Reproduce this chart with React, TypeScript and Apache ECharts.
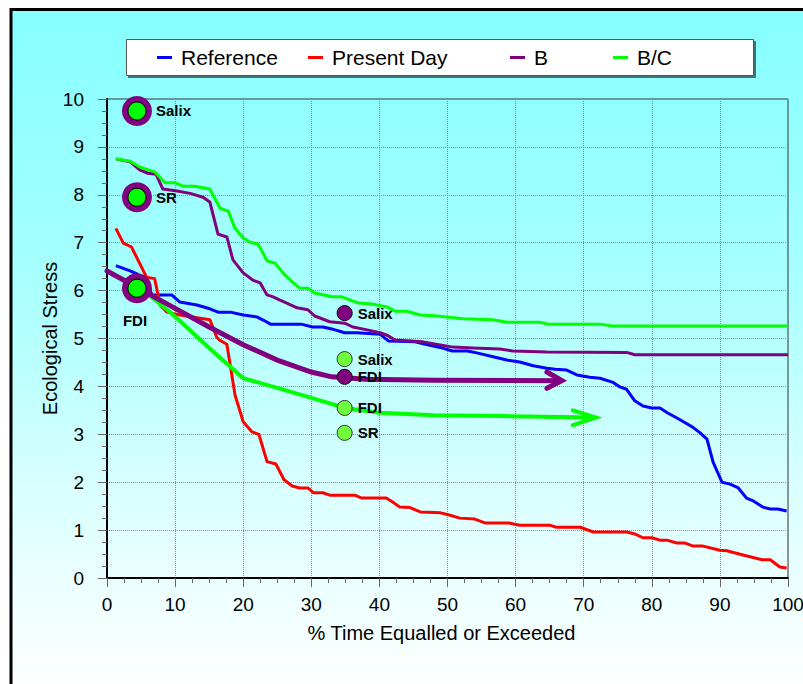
import React, { useEffect, useRef } from "react";
import * as echarts from "echarts";

const FONT = '"Liberation Sans", Arial, Helvetica, sans-serif';

// Duration curves: [% time equalled or exceeded, ecological stress]
const referenceCurve: [number, number][] = [
  [1.3, 6.52], [3.4, 6.41], [4.4, 6.35], [5.9, 6.16], [6.6, 5.91], [9.5, 5.91],
  [10.7, 5.76], [13.2, 5.7], [15.1, 5.62], [16.3, 5.55], [18.1, 5.55], [20, 5.49],
  [22, 5.45], [23, 5.38], [24, 5.3], [28.5, 5.3], [30.2, 5.24], [31.7, 5.24],
  [33, 5.2], [34.9, 5.12], [36.7, 5.12], [40.1, 5.09], [41.3, 4.95], [45.2, 4.93],
  [47.4, 4.86], [49.3, 4.8], [50.7, 4.74], [52.9, 4.74], [54.3, 4.7], [57, 4.61],
  [58.7, 4.55], [60.6, 4.51], [62.6, 4.43], [64.6, 4.38], [65.8, 4.36], [67.5, 4.34],
  [69, 4.24], [70.9, 4.19], [72.4, 4.17], [74.2, 4.09], [75.3, 3.99], [76.3, 3.94],
  [77.5, 3.7], [78.7, 3.59], [80, 3.55], [81.2, 3.55], [82.4, 3.44], [83.7, 3.34],
  [84.9, 3.24], [86, 3.15], [87.1, 3.03], [88.1, 2.9], [89, 2.42], [90.3, 2.0],
  [91.5, 1.96], [92.7, 1.88], [93.9, 1.67], [94.9, 1.61], [96.3, 1.48], [97.4, 1.44],
  [98.5, 1.44], [99.8, 1.4],
];

const presentDayCurve: [number, number][] = [
  [1.3, 7.3], [2.4, 6.99], [3.6, 6.91], [5.8, 6.28], [7.0, 6.25], [7.8, 5.7],
  [8.8, 5.55], [10.7, 5.49], [15.1, 5.39], [16.1, 5.03], [16.5, 4.97], [17.6, 4.88],
  [18.8, 3.82], [20, 3.26], [21.3, 3.05], [22.3, 3.0], [23.5, 2.43], [24.8, 2.38],
  [26, 2.05], [27.2, 1.92], [28.3, 1.88], [29.5, 1.88], [30.3, 1.78], [31.7, 1.78],
  [32.7, 1.73], [36.4, 1.73], [37.4, 1.67], [41, 1.67], [42, 1.58], [43, 1.48],
  [44.5, 1.47], [46, 1.38], [49, 1.36], [50.4, 1.31], [51.8, 1.25], [54, 1.23],
  [55.5, 1.15], [59, 1.15], [60.6, 1.1], [65.1, 1.1], [66, 1.06], [69.5, 1.06],
  [71.4, 0.96], [76.3, 0.96], [77.5, 0.92], [78.7, 0.84], [80, 0.84], [81.2, 0.79],
  [82.2, 0.79], [83.7, 0.73], [84.9, 0.73], [86, 0.67], [87.4, 0.67], [90, 0.58],
  [91, 0.57], [93.4, 0.48], [96.2, 0.38], [97.4, 0.38], [98.8, 0.23], [99.8, 0.21],
];

const bCurve: [number, number][] = [
  [1.3, 8.75], [3.4, 8.69], [4.8, 8.52], [6, 8.45], [7.2, 8.43], [8.2, 8.12],
  [10.3, 8.08], [12.2, 8.03], [14.1, 7.95], [15.1, 7.85], [16.3, 7.18], [17.6, 7.12],
  [18.5, 6.64], [20, 6.37], [21.4, 6.22], [22.5, 6.16], [23.5, 5.91], [24.4, 5.87],
  [25.4, 5.8], [26.4, 5.74], [27.9, 5.64], [29.5, 5.6], [30.5, 5.47], [32.7, 5.35],
  [34.9, 5.32], [36.1, 5.24], [38.2, 5.18], [40.1, 5.12], [41.1, 5.07], [42.3, 4.97],
  [46.4, 4.93], [47.9, 4.89], [50.8, 4.82], [53.7, 4.8], [57.7, 4.78], [59.6, 4.74],
  [64.6, 4.72], [76.3, 4.71], [77.5, 4.66], [100, 4.66],
];

const bcCurve: [number, number][] = [
  [1.3, 8.75], [3.4, 8.7], [4.8, 8.58], [7, 8.48], [8.5, 8.25], [10, 8.25],
  [11.2, 8.18], [12.9, 8.18], [15.1, 8.12], [16.6, 7.72], [17.8, 7.66], [18.8, 7.3],
  [20, 7.1], [21, 7.01], [22.2, 6.97], [23.5, 6.62], [24.7, 6.57], [25.9, 6.36],
  [27.2, 6.18], [28.3, 6.05], [29.5, 6.05], [30.5, 5.95], [33, 5.87], [34.5, 5.87],
  [36.9, 5.74], [38.9, 5.72], [41.1, 5.66], [42.3, 5.57], [44, 5.57], [46, 5.49],
  [48.5, 5.47], [49.9, 5.45], [52.3, 5.41], [56.7, 5.39], [58.7, 5.34], [63.5, 5.34],
  [64.8, 5.3], [72.4, 5.3], [74.2, 5.26], [100, 5.26],
];

// FDI trajectories with arrow heads
const bFdiPath: [number, number][] = [
  [0, 6.41], [5, 6.02], [10, 5.63], [15, 5.24], [20, 4.87], [25, 4.55],
  [30, 4.3], [33, 4.2], [38, 4.15], [48, 4.13], [66.6, 4.12],
];
const bFdiArrow: [number, number][] = [[64.6, 4.3], [66.8, 4.12], [64.6, 3.96]];

const bcFdiPath: [number, number][] = [
  [0, 6.41], [5, 6.05], [10, 5.46], [15, 4.8], [20, 4.17], [25, 3.97],
  [30, 3.76], [35, 3.55], [40, 3.45], [48, 3.4], [58, 3.38], [71.6, 3.35],
];
const bcFdiArrow: [number, number][] = [[68.4, 3.5], [71.8, 3.35], [68.4, 3.19]];

// Site markers
const siteX = 4.4;
const siteNames = ["Salix", "SR", "FDI"];
const siteStress = [9.75, 7.95, 6.05];

const bSiteX = 34.9;
const bSiteNames = ["Salix", "FDI"];
const bSiteStress = [5.53, 4.2];

const bcSiteX = 34.9;
const bcSiteNames = ["Salix", "FDI", "SR"];
const bcSiteStress = [4.57, 3.55, 3.03];

const legendNames = ["Reference", "Present Day", "B", "B/C"];
const legendLeft = [157, 308, 510, 613];

const BLUE = "#0000FF";
const RED = "#FF0000";
const PURPLE = "#800080";
const GREEN = "#00FF00";
const LIGHT_GREEN = "#70FF3C";

const markerLabel = {
  show: true,
  position: "right" as const,
  fontFamily: FONT,
  fontSize: 15,
  fontWeight: "bold" as const,
  color: "#000",
};

export default function App() {
  const ref = useRef<HTMLDivElement>(null);

  useEffect(() => {
    if (!ref.current) return;
    const chart = echarts.init(ref.current, undefined, { renderer: "svg" });

    const curve = (name: string, color: string, data: [number, number][]) => ({
      name,
      type: "line",
      data,
      color,
      showSymbol: false,
      symbol: "none",
      itemStyle: { color },
      lineStyle: { color, width: 3, join: "round" },
      z: 2,
    });

    const path = (name: string, color: string, data: [number, number][], width: number, z: number) => ({
      name,
      type: "line",
      data,
      showSymbol: false,
      symbol: "none",
      lineStyle: { color, width, join: "miter", cap: "round" },
      z,
    });

    const option: any = {
      animation: false,
      backgroundColor: "#FFFFFF",
      graphic: [
        {
          type: "rect",
          silent: true,
          z: -10,
          shape: { x: 11, y: 9.5, width: 1000, height: 1000 },
          style: {
            fill: new echarts.graphic.LinearGradient(
              0, 10, 0, 690,
              [
                { offset: 0, color: "#86FFFF" },
                { offset: 0.4, color: "#A8FFFF" },
                { offset: 0.72, color: "#DCFFFF" },
                { offset: 1, color: "#FFFFFF" },
              ],
              true
            ),
            stroke: "#000",
            lineWidth: 3,
          },
        },
        {
          type: "rect",
          silent: true,
          z: 3,
          shape: { x: 126.5, y: 39.5, width: 627, height: 36 },
          style: {
            fill: "#FFFFFF",
            stroke: "#555",
            lineWidth: 1,
            shadowColor: "rgba(0,0,0,0.55)",
            shadowOffsetX: 2,
            shadowOffsetY: 2,
            shadowBlur: 0,
          },
        },
      ],
      legend: legendNames.map((name, i) => ({
        data: [{ name, icon: "rect" }],
        left: legendLeft[i],
        top: 47,
        padding: 0,
        itemWidth: 15,
        itemHeight: 3,
        selectedMode: false,
        textStyle: {
          fontFamily: FONT,
          fontSize: 21,
          color: "#000",
          padding: [0, 0, 0, 4],
        },
      })),
      grid: {
        left: 107,
        right: 15,
        top: 99,
        bottom: 106,
        outerBoundsMode: "none",
        show: true,
        borderColor: "#333",
        borderWidth: 1,
        backgroundColor: "transparent",
      },
      xAxis: {
        type: "value",
        min: 0,
        max: 100,
        interval: 10,
        name: "% Time Equalled or Exceeded",
        nameLocation: "middle",
        nameGap: 45,
        nameMoveOverlap: false,
        nameTextStyle: { fontFamily: FONT, fontSize: 20, color: "#000", padding: [0, 12, 0, 0] },
        axisLine: { show: true, onZero: false, lineStyle: { color: "#000", width: 2 } },
        axisTick: { show: true, length: 9, lineStyle: { color: "#666" } },
        minorTick: { show: true, splitNumber: 4, length: 5, lineStyle: { color: "#666" } },
        axisLabel: { fontFamily: FONT, fontSize: 19, color: "#000", margin: 17 },
        splitLine: { show: true, lineStyle: { color: "#8c8c8c", type: [1, 1], width: 1 } },
      },
      yAxis: {
        type: "value",
        min: 0,
        max: 10,
        interval: 1,
        name: "Ecological Stress",
        nameLocation: "middle",
        nameGap: 47,
        nameMoveOverlap: false,
        nameTextStyle: { fontFamily: FONT, fontSize: 20, color: "#000" },
        axisLine: { show: true, onZero: false, lineStyle: { color: "#000", width: 2 } },
        axisTick: { show: true, length: 9, lineStyle: { color: "#666" } },
        minorTick: { show: true, splitNumber: 4, length: 5, lineStyle: { color: "#666" } },
        axisLabel: { fontFamily: FONT, fontSize: 19, color: "#000", margin: 23 },
        splitLine: { show: true, lineStyle: { color: "#8c8c8c", type: [1, 1], width: 1 } },
      },
      series: [
        curve("Reference", BLUE, referenceCurve),
        curve("Present Day", RED, presentDayCurve),
        curve("B", PURPLE, bCurve),
        curve("B/C", GREEN, bcCurve),
        path("B/C FDI", GREEN, bcFdiPath, 4, 3),
        path("B/C FDI arrow", GREEN, bcFdiArrow, 4, 3),
        path("B FDI", PURPLE, bFdiPath, 5, 4),
        path("B FDI arrow", PURPLE, bFdiArrow, 5, 4),
        {
          name: "Site ring",
          type: "scatter",
          symbol: "circle",
          symbolSize: 30,
          z: 5,
          itemStyle: { color: PURPLE, opacity: 1 },
          data: siteNames.map((name, i) => ({
            name,
            value: [siteX, siteStress[i]],
            label:
              name === "FDI"
                ? { ...markerLabel, position: "bottom", distance: 10, offset: [-2, 0] }
                : { ...markerLabel, distance: 4 },
          })),
          label: { ...markerLabel, formatter: "{b}" },
        },
        {
          name: "Site",
          type: "scatter",
          symbol: "circle",
          symbolSize: 18,
          z: 6,
          itemStyle: { color: GREEN, borderColor: "#000", borderWidth: 1, opacity: 1 },
          data: siteNames.map((name, i) => ({ name, value: [siteX, siteStress[i]] })),
        },
        {
          name: "B sites",
          type: "scatter",
          symbol: "circle",
          symbolSize: 15,
          z: 6,
          itemStyle: { color: PURPLE, borderColor: "#000", borderWidth: 1, opacity: 1 },
          label: { ...markerLabel, distance: 5, formatter: "{b}" },
          data: bSiteNames.map((name, i) => ({ name, value: [bSiteX, bSiteStress[i]] })),
        },
        {
          name: "B/C sites",
          type: "scatter",
          symbol: "circle",
          symbolSize: 15,
          z: 6,
          itemStyle: { color: LIGHT_GREEN, borderColor: "#333", borderWidth: 1, opacity: 1 },
          label: { ...markerLabel, distance: 5, formatter: "{b}" },
          data: bcSiteNames.map((name, i) => ({ name, value: [bcSiteX, bcSiteStress[i]] })),
        },
      ],
    };

    chart.setOption(option);
    return () => chart.dispose();
  }, []);

  return (
    <div
      ref={ref}
      style={{ position: "fixed", left: 0, top: 0, width: 803, height: 684 }}
    />
  );
}
